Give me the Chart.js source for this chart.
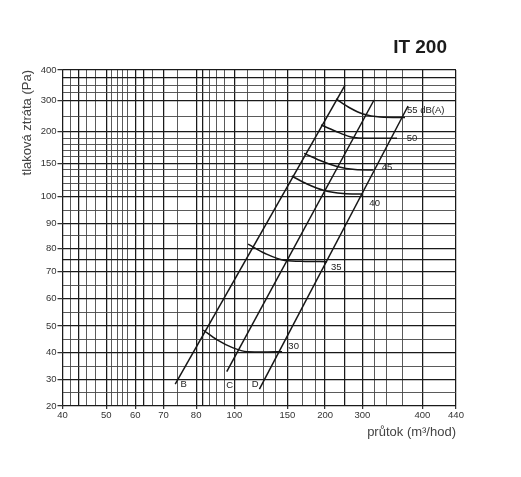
<!DOCTYPE html>
<html>
<head>
<meta charset="utf-8">
<title>IT 200</title>
<script src="https://cdn.jsdelivr.net/npm/chart.js@4/dist/chart.umd.min.js"></script>
<style>
  html, body { margin: 0; padding: 0; background: #fff; }
  #chart { display: block; }
</style>
</head>
<body>
<canvas id="chart" width="521" height="477"></canvas>
<script>
// IT 200 - pressure loss vs. air flow
// - printed axes are not a true log scale, so the labelled ticks are calibrated below
// - resistance lines B, C, D and noise curves 30..55 dB(A)

// labelled ticks + extra grid lines
const flowTicks = [40, 50, 60, 70, 80, 100, 150, 200, 300, 400, 440];
const flowMinor = [41.8, 43.7, 45.4, 47.5, 51.9, 54, 55.8, 57.4, 62.9, 66.2, 74.4, 83.5, 86.9, 90.8, 94.6,
                   112.3, 127.4, 138.4, 170.4, 187.7, 253.6, 319.5, 340.5, 367.3];
const pressTicks = [20, 30, 40, 50, 60, 70, 80, 90, 100, 150, 200, 300, 400];
const pressMinor = [25, 35, 45, 55, 65, 75, 85, 95, 110, 120, 130, 140, 160, 170, 180, 190, 250, 325, 350, 375];

// resistance lines
const bFlow = [73.6, 253.6];
const bPress = [28.2, 350.8];
const cFlow = [96.0, 319.5];
const cPress = [32.9, 301.6];
const dFlow = [123.6, 376.2];
const dPress = [26.3, 282.4];

// noise curves
const db55Flow = [229.5, 267, 301.2, 329.5, 371.2];
const db55Press = [304.9, 276, 256.7, 247.1, 245.5];
const db50Flow = [194.7, 226.8, 267, 312.8, 357.8];
const db50Press = [221.5, 202.2, 192.1, 189.6, 189.6];
const db45Flow = [172.1, 193.4, 232.2, 280.4, 317.8];
const db45Press = [165.8, 154.4, 145.2, 140.7, 140];
const db40Flow = [155.8, 176.1, 198.7, 248.3, 299.2];
const db40Press = [131, 119, 109.3, 104.8, 104];
const db35Flow = [112.9, 129, 147.8, 173.5, 205.4];
const db35Press = [81.7, 77.8, 74.8, 74.4, 74.3];
const db30Flow = [83.7, 91, 99.3, 112, 129, 145];
const db30Press = [48.5, 44.8, 41.8, 40.4, 40.3, 40.4];

// text on the curves
const curveLabels = ['55 dB(A)', '50', '45', '40', '35', '30', 'B', 'C', 'D'];
const labelFlow = [374.5, 374, 332.3, 311.7, 216.1, 151.3, 75.2, 95.7, 116.4];
const labelPress = [267, 189.6, 144, 97.5, 71.9, 42.2, 28.2, 27.6, 28.2];

// axis calibration: where each labelled tick sits along its axis (px from axis start)
const flowTickPos = [0, 43.7, 72.7, 101, 133.7, 172, 225, 262.7, 300, 360, 393.7];
const pressTickPos = [0, 26.7, 53.3, 80, 107.7, 134.3, 157.7, 182.7, 209.3, 242.7, 274.3, 305.5, 336];

const boldFlow = [43.7, 62.9, 80, 83.5, 100, 253.6, 300];
const boldPress = [375, 200, 100, 75, 40];

function toAxis(v, vals, pos) {
    for (let i = 1; i < vals.length; i++) {
        if (v <= vals[i] || i === vals.length - 1) {
            const t = (v - vals[i - 1]) / (vals[i] - vals[i - 1]);
            return pos[i - 1] + t * (pos[i] - pos[i - 1]);
        }
    }
}
const mapX = v => toAxis(v, flowTicks, flowTickPos);
const mapY = v => toAxis(v, pressTicks, pressTickPos);

function points(xs, ys) {
    return xs.map((x, i) => ({ x: mapX(x), y: mapY(ys[i]) }));
}

function gridTicks(major, minor, map, bold) {
    const all = major.map(v => ({ v, main: true })).concat(minor.map(v => ({ v, main: false })));
    all.sort((a, b) => a.v - b.v);
    return all.map(t => ({ value: map(t.v), main: t.main, raw: t.v, bold: t.main || bold.includes(t.v) }));
}

const ink = '#161616';
const labelFont = { family: 'Liberation Sans, Arial, sans-serif', size: 9.5 };

function lineSet(data, smooth) {
    return {
        data,
        borderColor: ink,
        borderWidth: 1.5,
        pointRadius: 0,
        showLine: true,
        fill: false,
        tension: smooth ? 0.4 : 0,
        cubicInterpolationMode: smooth ? 'monotone' : 'default'
    };
}

// title + curve labels
const textPlugin = {
    id: 'sheetText',
    afterDatasetsDraw(chart) {
        const { ctx, scales: { x, y } } = chart;
        ctx.save();
        ctx.fillStyle = '#222';
        ctx.font = '9.5px "Liberation Sans", Arial, sans-serif';
        ctx.textAlign = 'left';
        ctx.textBaseline = 'middle';
        curveLabels.forEach((t, i) => {
            ctx.fillText(t, x.getPixelForValue(mapX(labelFlow[i])), y.getPixelForValue(mapY(labelPress[i])));
        });
        ctx.font = 'bold 19px "Liberation Sans", Arial, sans-serif';
        ctx.textAlign = 'right';
        ctx.textBaseline = 'alphabetic';
        ctx.fillStyle = '#1b1b1b';
        ctx.fillText('IT 200', 447, 53);
        ctx.restore();
    }
};

const gridOpts = len => ({
    color: c => (c.tick && c.tick.bold) ? '#1a1a1a' : '#474747',
    lineWidth: c => (c.tick && c.tick.bold) ? 1.25 : 0.9,
    tickColor: c => (c.tick && c.tick.main) ? '#333' : 'rgba(0,0,0,0)',
    tickLength: len
});

new Chart(document.getElementById('chart'), {
    type: 'scatter',
    data: {
        datasets: [
            lineSet(points(bFlow, bPress), false),
            lineSet(points(cFlow, cPress), false),
            lineSet(points(dFlow, dPress), false),
            lineSet(points(db55Flow, db55Press), true),
            lineSet(points(db50Flow, db50Press), true),
            lineSet(points(db45Flow, db45Press), true),
            lineSet(points(db40Flow, db40Press), true),
            lineSet(points(db35Flow, db35Press), true),
            lineSet(points(db30Flow, db30Press), true)
        ]
    },
    options: {
        responsive: false,
        animation: false,
        layout: { padding: { top: 70, right: 65, bottom: 0, left: 0 } },
        plugins: { legend: { display: false }, tooltip: { enabled: false } },
        scales: {
            x: {
                type: 'linear',
                min: 0,
                max: flowTickPos[flowTickPos.length - 1],
                afterBuildTicks: s => { s.ticks = gridTicks(flowTicks, flowMinor, mapX, boldFlow); },
                afterFit: s => { s.height = 71; },
                border: { display: false },
                grid: gridOpts(3),
                ticks: {
                    autoSkip: false,
                    maxRotation: 0,
                    padding: 1,
                    color: '#333',
                    font: labelFont,
                    callback: (v, i, ticks) => ticks[i].main ? String(ticks[i].raw) : ''
                },
                title: {
                    display: true,
                    text: 'průtok (m³/hod)',
                    align: 'end',
                    color: '#444',
                    font: { family: 'Liberation Sans, Arial, sans-serif', size: 13 },
                    padding: { top: 0, bottom: 37 }
                }
            },
            y: {
                type: 'linear',
                min: 0,
                max: pressTickPos[pressTickPos.length - 1],
                afterBuildTicks: s => { s.ticks = gridTicks(pressTicks, pressMinor, mapY, boldPress); },
                afterFit: s => { s.width = 62.5; },
                border: { display: false },
                grid: gridOpts(5),
                ticks: {
                    autoSkip: false,
                    padding: 1,
                    color: '#333',
                    font: labelFont,
                    callback: (v, i, ticks) => ticks[i].main ? String(ticks[i].raw) : ''
                },
                title: {
                    display: true,
                    text: 'tlaková ztráta (Pa)',
                    align: 'end',
                    color: '#444',
                    font: { family: 'Liberation Sans, Arial, sans-serif', size: 13 },
                    padding: { top: 20, bottom: 0 }
                }
            }
        }
    },
    plugins: [textPlugin]
});
</script>
</body>
</html>
